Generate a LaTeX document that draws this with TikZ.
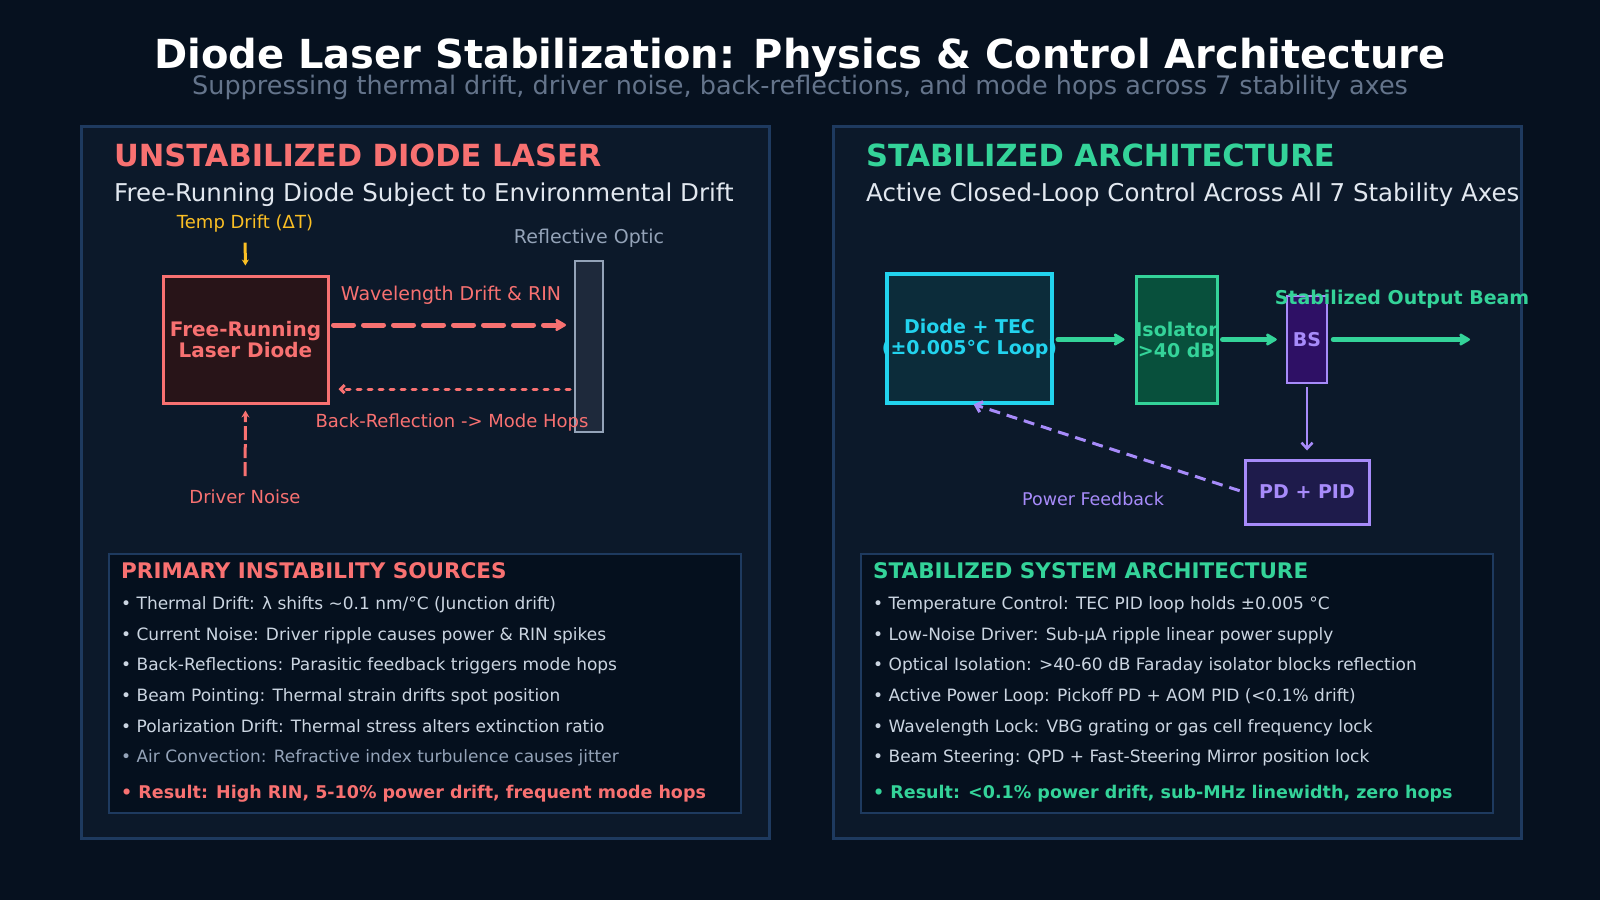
\documentclass[tikz,border=0pt]{standalone}
\usepackage{fontspec}
\setmainfont{DejaVu Sans}
\usepackage{tikz}
\usetikzlibrary{positioning,arrows.meta,calc}
\definecolor{bgclr}{RGB}{6,17,31}
\definecolor{panelclr}{RGB}{12,25,42}
\definecolor{edgeclr}{RGB}{30,58,95}
\definecolor{listclr}{RGB}{5,16,30}
\definecolor{redclr}{RGB}{248,113,113}
\definecolor{amberclr}{RGB}{251,191,36}
\definecolor{slateclr}{RGB}{148,163,184}
\definecolor{dimclr}{RGB}{100,116,139}
\definecolor{lightclr}{RGB}{226,232,240}
\definecolor{itemclr}{RGB}{203,213,225}
\definecolor{greenclr}{RGB}{52,211,153}
\definecolor{cyanclr}{RGB}{34,211,238}
\definecolor{purpclr}{RGB}{167,139,250}
\definecolor{diodefill}{RGB}{40,20,24}
\definecolor{opticfill}{RGB}{30,41,59}
\definecolor{tecfill}{RGB}{12,44,58}
\definecolor{isofill}{RGB}{8,80,60}
\definecolor{bsfill}{RGB}{46,16,101}
\definecolor{pdfill}{RGB}{30,27,75}
\tikzset{
  ttl/.style={inner sep=0pt,anchor=base,text=white,font=\fontsize{40}{48}\selectfont\bfseries},
  subttl/.style={inner sep=0pt,anchor=base,text=dimclr,font=\fontsize{25.5}{30}\selectfont},
  panel/.style={rectangle,draw=edgeclr,line width=3pt,fill=panelclr,anchor=north west,
                minimum width=688pt,minimum height=712pt},
  listbox/.style={rectangle,draw=edgeclr,line width=2pt,fill=listclr,anchor=north west,
                  minimum width=632pt,minimum height=259pt},
  hd/.style={inner sep=0pt,anchor=base west,font=\fontsize{30.5}{36}\selectfont\bfseries},
  sub/.style={inner sep=0pt,anchor=base west,text=lightclr,font=\fontsize{24.5}{29}\selectfont},
  lbl/.style={inner sep=0pt,anchor=base,font=\fontsize{18}{21}\selectfont},
  blk/.style={rectangle,line width=3pt,inner sep=0pt,align=center,
              font=\fontsize{19}{21}\selectfont\bfseries},
  listhd/.style={inner sep=0pt,anchor=base west,font=\fontsize{21.5}{26}\selectfont\bfseries},
  item/.style={inner sep=0pt,anchor=base west,text=itemclr,font=\fontsize{17}{20}\selectfont},
  res/.style={item,font=\fontsize{17.5}{20}\selectfont\bfseries},
  beam/.style={line width=5pt,line cap=round,-{Stealth[round,length=13pt,width=15pt,inset=3pt]}},
  fback/.style={line width=3pt,-{Straight Barb[length=6pt,width=11pt]}},
}
\begin{document}
\begin{tikzpicture}[x=1pt,y=-1pt]
\fill[bgclr] (0,0) rectangle (1600,900);
\useasboundingbox (0,0) rectangle (1600,900);
\node[ttl] (title) at (800,68) {Diode Laser Stabilization: Physics \& Control Architecture};
\node[subttl] (subtitle) at (800,94) {Suppressing thermal drift, driver noise, back-reflections, and mode hops across 7 stability axes};
\node[panel] (lpanel) at (80,125) {};
\node[panel] (rpanel) at (832,125) {};
\node[hd,text=redclr] (lhead) at (114,166) {UNSTABILIZED DIODE LASER};
\node[sub] (lsub) at (114,201) {Free-Running Diode Subject to Environmental Drift};
\node[blk,draw=redclr,fill=diodefill,text=redclr,font=\fontsize{20}{21}\selectfont\bfseries,minimum width=165pt,minimum height=127pt] (ld) at (245.5,339.5) {Free-Running\\Laser Diode};
\node[rectangle,draw=slateclr,line width=2pt,fill=opticfill,minimum width=28pt,minimum height=171pt] (optic) at (589,346.5) {};
\node[lbl,text=amberclr] (temp) at (245,228.6) {Temp Drift (ΔT)};
\node[lbl,text=slateclr,font=\fontsize{19}{21}\selectfont] (opticlbl) at (589,243) {Reflective Optic};
\node[lbl,text=redclr,font=\fontsize{19}{21}\selectfont] (wavelbl) at (451,300) {Wavelength Drift \& RIN};
\node[lbl,text=redclr] (backlbl) at (452,427.5) {Back-Reflection -> Mode Hops};
\node[lbl,text=redclr] (noise) at (245,503) {Driver Noise};
\draw[beam,redclr,dash pattern=on 20pt off 10pt,shorten <=4pt,shorten >=8pt] ([yshift=14.5pt]ld.east) -- ([yshift=14.5pt]ld.east -| optic.west);
\draw[redclr,line width=3pt,line cap=round,dash pattern=on 4pt off 7pt,-{Straight Barb[length=4pt,width=8pt]},shorten <=4pt,shorten >=9pt] ([yshift=-49.5pt]ld.east -| optic.west) -- ([yshift=-49.5pt]ld.east);
\draw[amberclr,line width=3pt,-{Stealth[length=6pt,width=7pt]},shorten <=10pt,shorten >=9pt] (temp.south) -- (ld.north);
\draw[redclr,line width=3pt,dash pattern=on 14pt off 4pt,-{Stealth[length=7pt,width=8pt]},shorten <=13pt,shorten >=6pt] (noise.north) -- (ld.south);
\node[listbox] (lbox) at (108,553) {};
\node[listhd,text=redclr] (lbhead) at (121,578) {PRIMARY INSTABILITY SOURCES};
\node[item] (l1) at (121,609) {• Thermal Drift: λ shifts \textasciitilde0.1 nm/°C (Junction drift)};
\node[item] (l2) at (121,640) {• Current Noise: Driver ripple causes power \& RIN spikes};
\node[item] (l3) at (121,670) {• Back-Reflections: Parasitic feedback triggers mode hops};
\node[item] (l4) at (121,701) {• Beam Pointing: Thermal strain drifts spot position};
\node[item] (l5) at (121,732) {• Polarization Drift: Thermal stress alters extinction ratio};
\node[item,text=slateclr] (l6) at (121,762) {• Air Convection: Refractive index turbulence causes jitter};
\node[res,text=redclr] (lres) at (121,798) {• Result: High RIN, 5-10\% power drift, frequent mode hops};
\node[hd,text=greenclr] (rhead) at (866,166) {STABILIZED ARCHITECTURE};
\node[sub] (rsub) at (866,201) {Active Closed-Loop Control Across All 7 Stability Axes};
\node[blk,draw=cyanclr,line width=4pt,fill=tecfill,text=cyanclr,minimum width=165pt,minimum height=129pt] (tec) at (969.5,338.5) {\makebox[0pt]{Diode + TEC}\\\makebox[0pt]{(±0.005°C Loop)}};
\node[blk,draw=greenclr,fill=isofill,text=greenclr,minimum width=81pt,minimum height=127pt] (iso) at (1176.5,339.5) {\makebox[0pt]{Isolator}\\\makebox[0pt]{>40 dB}};
\node[blk,draw=purpclr,line width=2.5pt,fill=bsfill,text=purpclr,minimum width=40pt,minimum height=87pt] (bs) at (1307,339.5) {BS};
\node[blk,draw=purpclr,fill=pdfill,text=purpclr,minimum width=124pt,minimum height=64pt] (pd) at (1307,492) {PD + PID};
\node[lbl,text=greenclr,font=\fontsize{19}{21}\selectfont\bfseries] (outlbl) at (1402,304) {Stabilized Output Beam};
\node[lbl,text=purpclr,font=\fontsize{17.5}{20}\selectfont] (fblbl) at (1093,505) {Power Feedback};
\coordinate (beamend) at (1470,339.5);
\draw[beam,greenclr,shorten <=4pt,shorten >=10pt] (tec.east |- iso.west) -- (iso.west);
\draw[beam,greenclr,shorten <=4pt,shorten >=9pt] (iso.east) -- (bs.west);
\draw[beam,greenclr,shorten <=5pt] (bs.east) -- (beamend);
\draw[fback,purpclr,line width=2.5pt,shorten <=3pt,shorten >=8pt] (bs.south) -- (pd.north);
\draw[fback,purpclr,dash pattern=on 11pt off 7pt,shorten <=4pt,shorten >=-2pt] (pd.west) -- ([xshift=6pt]tec.south);
\node[listbox] (rbox) at (860,553) {};
\node[listhd,text=greenclr] (rbhead) at (873,578) {STABILIZED SYSTEM ARCHITECTURE};
\node[item] (r1) at (873,609) {• Temperature Control: TEC PID loop holds ±0.005 °C};
\node[item] (r2) at (873,640) {• Low-Noise Driver: Sub-μA ripple linear power supply};
\node[item] (r3) at (873,670) {• Optical Isolation: >40-60 dB Faraday isolator blocks reflection};
\node[item] (r4) at (873,701) {• Active Power Loop: Pickoff PD + AOM PID (<0.1\% drift)};
\node[item] (r5) at (873,732) {• Wavelength Lock: VBG grating or gas cell frequency lock};
\node[item] (r6) at (873,762) {• Beam Steering: QPD + Fast-Steering Mirror position lock};
\node[res,text=greenclr] (rres) at (873,798) {• Result: <0.1\% power drift, sub-MHz linewidth, zero hops};
\end{tikzpicture}
\end{document}
